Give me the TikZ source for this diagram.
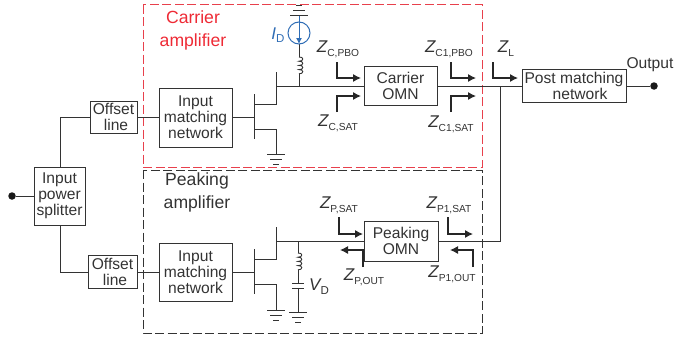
\documentclass[tikz,border=0pt]{standalone}
\usepackage{fontspec}
\setmainfont{Liberation Sans}
\usetikzlibrary{arrows.meta}
\definecolor{ink}{HTML}{333333}
\definecolor{redd}{HTML}{E8404C}
\definecolor{redt}{HTML}{EE2A35}
\definecolor{bluu}{HTML}{2F6DB5}
\newcommand\zl[1]{{\itshape Z}\raisebox{-3.5pt}{\fontsize{10.2}{12}\selectfont #1}}
\newcommand\bodyf{\fontsize{15.6}{16}\selectfont}
\newcommand\bigf{\fontsize{17.6}{22.5}\selectfont}
% ground symbol: x, y, direction (1 down, -1 up)
\newcommand\gndsym[3]{%
  \draw[wire] (#1-9,#2) -- (#1+9,#2);
  \draw[wire] (#1-6,#2+5*#3) -- (#1+6,#2+5*#3);
  \draw[wire] (#1-3,#2+10*#3) -- (#1+3,#2+10*#3);}
% inductor: x, top y
\newcommand\coil[2]{%
  \draw[wire] (#1,#2) .. controls (#1+5,#2-0.5) and (#1+5,#2+4.5) .. (#1,#2+4.2)
    .. controls (#1+5,#2+3.8) and (#1+5,#2+8.8) .. (#1,#2+8.4)
    .. controls (#1+5,#2+8) and (#1+5,#2+13) .. (#1,#2+12.6)
    .. controls (#1+5,#2+12.2) and (#1+5,#2+17.2) .. (#1,#2+16.8);}
\tikzset{
  x=1pt,y=-1pt,
  wire/.style={draw=ink,line width=0.9pt},
  bent/.style={draw=black!85,line width=1.1pt,-{Latex[length=8pt,width=8pt]}},
  blockn/.style={draw=ink,line width=0.9pt,inner sep=0pt,align=center,text=ink,font=\bodyf},
  lab/.style={inner sep=0pt,text=ink,font=\fontsize{17}{18}\selectfont},
  bigl/.style={inner sep=0pt,align=center,font=\bigf},
  dotn/.style={circle,fill=black!90,inner sep=0pt,minimum size=7.5pt},
  region/.style={line width=1pt,dash pattern=on 9pt off 3.5pt},
}
\begin{document}
\begin{tikzpicture}
\useasboundingbox (0,0) rectangle (674,340);
\draw[region,draw=redd] (143,4.5) rectangle (482,167);
\draw[region,draw=ink] (143,170) rectangle (482,333);

% blocks
\node[blockn,minimum width=51pt,minimum height=58pt] (split) at (59.5,196) {Input\\power\\splitter};
\node[blockn,minimum width=47pt,minimum height=32pt] (offT) at (113.5,117) {Offset\\\hspace*{5pt}line};
\node[blockn,minimum width=49pt,minimum height=33pt] (offB) at (112.5,271.5) {Offset\\\hspace*{5pt}line};
\node[blockn,minimum width=73pt,minimum height=59pt] (imnT) at (195.5,117.5) {Input\\matching\\network};
\node[blockn,minimum width=73pt,minimum height=58pt] (imnB) at (195.5,272) {Input\\matching\\network};
\node[blockn,minimum width=73pt,minimum height=39pt] (omnC) at (400.5,85.5) {Carrier\\OMN};
\node[blockn,minimum width=74pt,minimum height=40pt] (omnP) at (401,241) {Peaking\\OMN};
\node[blockn,minimum width=104pt,minimum height=33pt] (post) at (574,85.5) {Post matching\\\hspace*{12pt}network};
\node[dotn] (inD) at (12,196) {};
\node[dotn] (outD) at (654,86) {};

% helper coordinates
\coordinate (gT) at (254,117);
\coordinate (gB) at (254,272);
\coordinate (jn) at (500,86);
\coordinate (dT) at (276,86);
\coordinate (dB) at (276,241);

% input wiring
\draw[wire] (inD) -- (split);
\draw[wire] (split.north -| 60,0) -- (60,117) -- (offT.west |- 60,117);
\draw[wire] (split.south -| 60,0) -- (60,272) -- (offB.west |- 60,272);
\draw[wire] (offT.east |- 0,117) -- (imnT.west |- 0,117);
\draw[wire] (offB.east |- 0,272) -- (imnB.west |- 0,272);
\draw[wire] (imnT.east |- gT) -- (gT);
\draw[wire] (imnB.east |- gB) -- (gB);

% output wiring
\draw[wire] (276,86) -- (omnC.west |- dT);
\draw[wire] (276,241) -- (omnP.west |- dB);
\draw[wire] (omnC.east |- jn) -- (post.west |- jn);
\draw[wire] (post.east |- outD) -- (outD);
\draw[wire] (omnP.east |- dB) -- (500,241) -- (jn);

% carrier transistor
\draw[wire] (254,94) -- (254,139);
\draw[wire] (254,104) -- (276,104) -- (276,72);
\draw[wire] (254,129) -- (276,129) -- (276,154);
\gndsym{276}{154}{1}
% carrier bias
\draw[wire] (299,86) -- (299,74);
\coil{299}{57}
\draw[wire] (299,57) -- (299,44);
\node[circle,draw=bluu,line width=1pt,minimum size=22pt,inner sep=0pt] (src) at (299,33) {};
\draw[draw=bluu,line width=1pt,-{Latex[length=6pt,width=6pt]}] (299,15) -- (299,44);
\gndsym{299}{15}{-1}
\node[inner sep=0pt,text=bluu,font=\fontsize{17}{18}\selectfont] (idl) at (278,35) {{\itshape I}\raisebox{-3.5pt}{\fontsize{11.5}{12}\selectfont D}};

% peaking transistor
\draw[wire] (254,249) -- (254,294);
\draw[wire] (254,259) -- (276,259) -- (276,227);
\draw[wire] (254,284) -- (276,284) -- (276,310);
\gndsym{276}{310}{1}
% peaking bias
\draw[wire] (298,241) -- (298,253);
\coil{298}{253}
\draw[wire] (298,270) -- (298,283);
\draw[wire] (292,283) -- (304,283);
\draw[wire] (292,288) -- (304,288);
\draw[wire] (298,288) -- (298,312);
\gndsym{298}{312}{1}
\node[lab] (vdl) at (319,286.5) {{\itshape V}\raisebox{-3.5pt}{\fontsize{11.5}{12}\selectfont D}};

% impedance arrows
\draw[bent] (337,62) -- (337,78) -- (361,78);
\draw[bent] (337,112) -- (337,96) -- (361,96);
\draw[bent] (451,62) -- (451,78) -- (476,78);
\draw[bent] (451,112) -- (451,96) -- (476,96);
\draw[bent] (493,62) -- (493,78) -- (518,78);
\draw[bent] (339,217) -- (339,234) -- (363,234);
\draw[bent] (363,267) -- (363,250) -- (340,250);
\draw[bent] (448,217) -- (448,234) -- (473,234);
\draw[bent] (473,267) -- (473,250) -- (450,250);

% labels
\node[lab] (z1) at (338,49.5) {\zl{C,PBO}};
\node[lab] (z2) at (338,123.5) {\zl{C,SAT}};
\node[lab] (z3) at (449,49.5) {\zl{C1,PBO}};
\node[lab] (z4) at (451,124.5) {\zl{C1,SAT}};
\node[lab] (z5) at (506,48.5) {\zl{L}};
\node[lab] (z6) at (339,205.5) {\zl{P,SAT}};
\node[lab] (z7) at (364,277.5) {\zl{P,OUT}};
\node[lab] (z8) at (449,205.5) {\zl{P1,SAT}};
\node[lab] (z9) at (452,274.5) {\zl{P1,OUT}};
\node[inner sep=0pt,text=ink,font=\bodyf] (outl) at (650,65) {Output};
\node[bigl,text=redt] (cart) at (193,30.5) {Carrier\\amplifier};
\node[bigl,text=ink] (peak) at (197,192.5) {Peaking\\amplifier};
\end{tikzpicture}
\end{document}
